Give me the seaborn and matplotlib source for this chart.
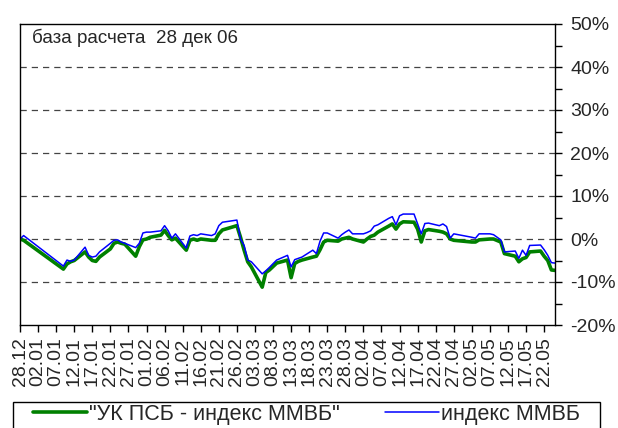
import matplotlib
matplotlib.use("Agg")
import matplotlib.pyplot as plt
import matplotlib.dates as mdates
from matplotlib.patches import Rectangle
from matplotlib.ticker import MultipleLocator, FuncFormatter
import pandas as pd
import seaborn as sns

# trading dates and cumulative change since 28 Dec 2006, %
dates = [
    "2006-12-28", "2006-12-29", "2007-01-09", "2007-01-10", "2007-01-11", "2007-01-12",
    "2007-01-15", "2007-01-16", "2007-01-17", "2007-01-18", "2007-01-19", "2007-01-22",
    "2007-01-23", "2007-01-24", "2007-01-25", "2007-01-26", "2007-01-29", "2007-01-30",
    "2007-01-31", "2007-02-01", "2007-02-02", "2007-02-05", "2007-02-06", "2007-02-07",
    "2007-02-08", "2007-02-09", "2007-02-12", "2007-02-13", "2007-02-14", "2007-02-15",
    "2007-02-16", "2007-02-19", "2007-02-20", "2007-02-21", "2007-02-22", "2007-02-26",
    "2007-02-27", "2007-02-28", "2007-03-01", "2007-03-02", "2007-03-05", "2007-03-06",
    "2007-03-07", "2007-03-09", "2007-03-12", "2007-03-13", "2007-03-14", "2007-03-15",
    "2007-03-16", "2007-03-19", "2007-03-20", "2007-03-21", "2007-03-22", "2007-03-23",
    "2007-03-26", "2007-03-27", "2007-03-28", "2007-03-29", "2007-03-30", "2007-04-02",
    "2007-04-03", "2007-04-04", "2007-04-05", "2007-04-06", "2007-04-09", "2007-04-10",
    "2007-04-11", "2007-04-12", "2007-04-13", "2007-04-16", "2007-04-17", "2007-04-18",
    "2007-04-19", "2007-04-20", "2007-04-23", "2007-04-24", "2007-04-25", "2007-04-26",
    "2007-04-27", "2007-05-02", "2007-05-03", "2007-05-04", "2007-05-07", "2007-05-08",
    "2007-05-10", "2007-05-11", "2007-05-14", "2007-05-15", "2007-05-16", "2007-05-17",
    "2007-05-18", "2007-05-21", "2007-05-22", "2007-05-23", "2007-05-24", "2007-05-25",
]
psb = [
    0.0, -0.3, -7.0, -5.8, -5.3, -5.0,
    -3.0, -4.2, -5.0, -5.2, -4.2, -2.3,
    -1.0, -0.7, -1.0, -1.2, -4.0, -1.8,
    -0.2, 0.0, 0.4, 0.9, 2.0, 0.8,
    -0.2, 0.2, -2.6, -0.3, 0.0, -0.3,
    0.0, -0.3, -0.3, 1.2, 2.1, 3.1,
    0.4, -2.6, -5.3, -6.5, -11.2, -7.8,
    -7.2, -5.6, -4.9, -9.0, -5.7, -5.2,
    -4.9, -4.2, -4.0, -2.5, -0.7, -0.3,
    -0.5, 0.0, 0.2, 0.4, 0.0, -0.7,
    0.0, 0.6, 0.9, 1.6, 3.0, 3.5,
    2.3, 3.5, 4.0, 3.9, 2.3, -0.7,
    1.9, 2.2, 1.8, 1.6, 1.2, 0.0,
    -0.3, -0.7, -0.7, -0.2, 0.0, 0.0,
    -0.7, -3.4, -4.0, -5.3, -4.6, -4.3,
    -3.0, -2.8, -4.0, -5.0, -7.2, -7.3,
]
micex = [
    0.0, 0.8, -6.3, -4.9, -5.2, -4.9,
    -1.9, -3.8, -4.2, -4.0, -3.0, -1.0,
    -0.3, -0.2, -0.7, -1.0, -2.0, -1.0,
    1.4, 1.6, 1.6, 1.9, 3.1, 1.9,
    0.2, 1.2, -2.1, 0.7, 1.0, 0.8,
    1.2, 0.8, 1.2, 3.1, 3.9, 4.4,
    0.0, -1.5, -4.9, -5.3, -8.1, -7.4,
    -6.6, -4.9, -3.8, -6.5, -4.8, -4.5,
    -4.2, -2.6, -3.4, -0.5, 1.4, 1.4,
    0.2, 1.0, 1.6, 2.1, 1.2, 1.2,
    1.5, 1.9, 3.0, 3.3, 4.8, 5.2,
    3.3, 5.4, 5.8, 5.8, 3.5, 1.2,
    3.6, 3.7, 3.1, 3.5, 2.9, 0.2,
    1.2, 0.4, 0.2, 1.2, 1.2, 1.0,
    -0.2, -3.0, -2.8, -4.5, -2.6, -3.8,
    -1.5, -1.4, -2.5, -3.8, -5.5, -5.6,
]
tick_dates = pd.date_range("2006-12-28", periods=30, freq="5D")

df = pd.DataFrame({"date": pd.to_datetime(dates), "psb": psb, "micex": micex})

sns.set_style("white")
plt.rcParams["font.family"] = ["Liberation Sans", "DejaVu Sans"]

fig = plt.figure(figsize=(6.18, 4.28), dpi=100)
ax = fig.add_axes([20 / 618, 1 - 325 / 428, 535 / 618, 301 / 428])

sns.lineplot(data=df, x="date", y="psb", ax=ax, color="#008000", linewidth=2.6,
             label='"УК ПСБ - индекс ММВБ"')
sns.lineplot(data=df, x="date", y="micex", ax=ax, color="#0000ff", linewidth=1.1,
             label="индекс ММВБ")

ax.set_ylim(-20, 50)
ax.set_xlim(pd.Timestamp("2006-12-28"), pd.Timestamp("2007-05-25"))
ax.set_xlabel("")
ax.set_ylabel("")

# dashed horizontal gridlines
for v in range(-10, 50, 10):
    ax.axhline(v, color="#444444", linestyle=(0, (5, 4)), linewidth=0.9, zorder=0)

ax.yaxis.tick_right()
ax.yaxis.set_major_locator(MultipleLocator(10))
ax.yaxis.set_minor_locator(MultipleLocator(5))
ax.yaxis.set_major_formatter(FuncFormatter(lambda v, p: f"{v:.0f}%"))
ax.tick_params(axis="y", which="both", direction="out", length=5, width=1,
               right=True, left=False, labelsize=14, pad=6, color="black")

ax.set_xticks(tick_dates)
ax.xaxis.set_major_formatter(mdates.DateFormatter("%d.%m"))
ax.tick_params(axis="x", direction="out", length=5, width=1, bottom=True,
               labelsize=14, labelrotation=90, pad=4, color="black")

for s in ax.spines.values():
    s.set_visible(True)
    s.set_color("black")
    s.set_linewidth(1.0)

ax.text(0.022, 0.985, "база расчета  28 дек 06", transform=ax.transAxes,
        ha="left", va="top", fontsize=13.5)

handles, labels = ax.get_legend_handles_labels()
ax.get_legend().remove()
leg = fig.legend(handles, labels, loc="upper left", ncol=2,
                 bbox_to_anchor=(33 / 618, 1 - 404 / 428),
                 frameon=False, fontsize=15.5, handlelength=2.5,
                 handletextpad=0.1, columnspacing=2.1, borderaxespad=0, borderpad=0)
fig.add_artist(Rectangle((13 / 618, -0.05), 587 / 618, 0.05 + 1 - 402 / 428,
                         transform=fig.transFigure, fill=False,
                         edgecolor="black", linewidth=1.0))

fig.savefig("out.png", dpi=100)
